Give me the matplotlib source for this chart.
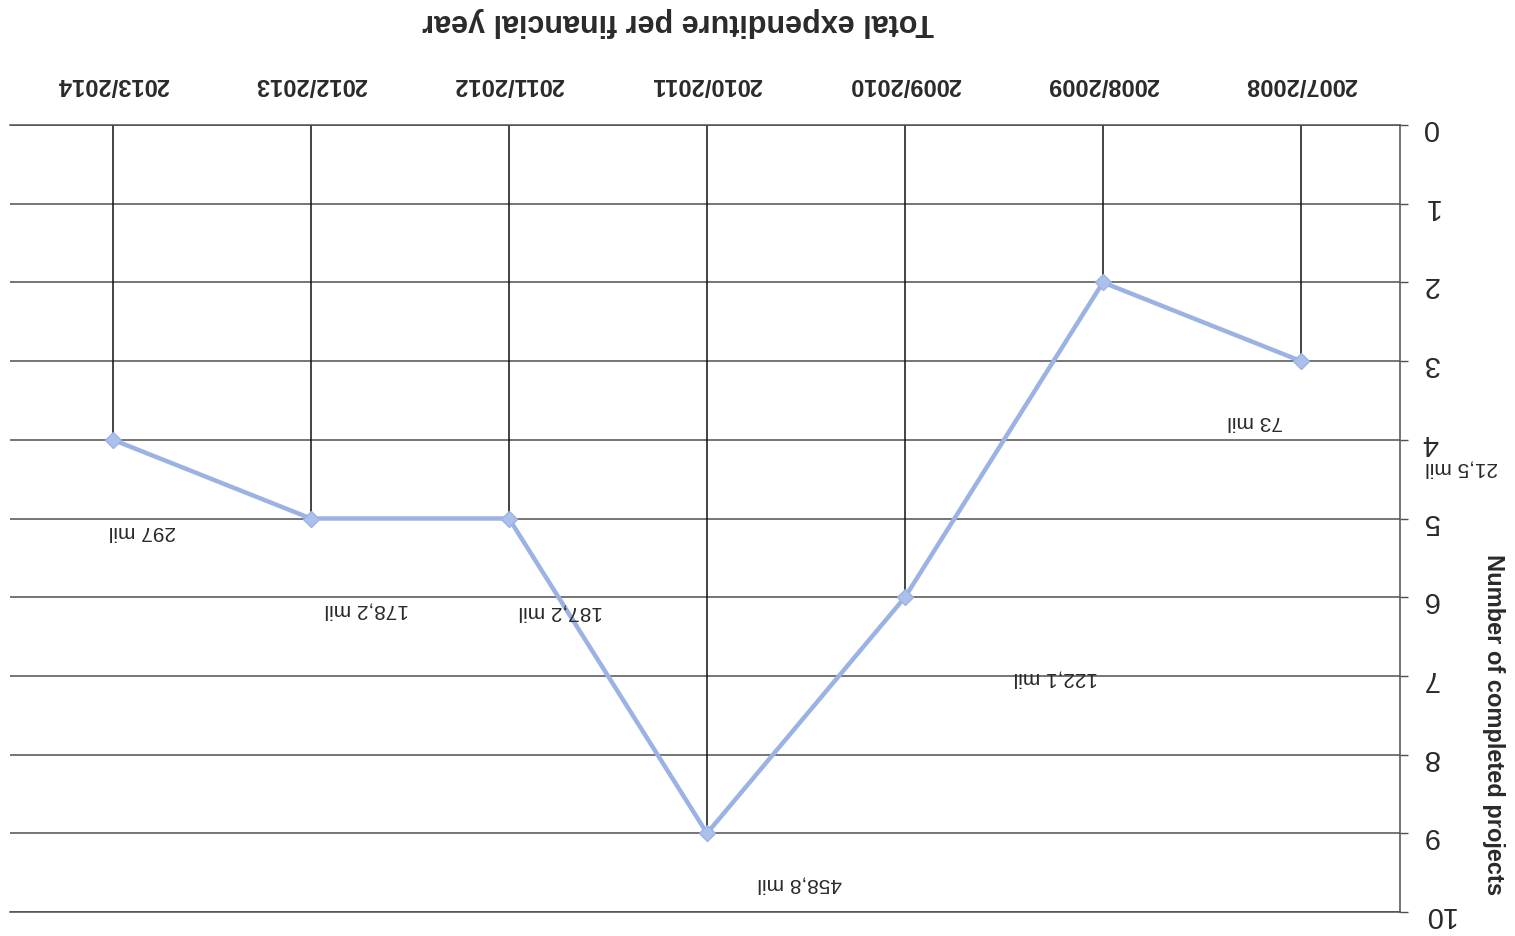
from matplotlib import pyplot as plt

plt.rcParams['font.family'] = ['Liberation Sans', 'DejaVu Sans']

years = ["2007/2008", "2008/2009", "2009/2010", "2010/2011", "2011/2012", "2012/2013", "2013/2014"]
completed_projects = [3, 2, 6, 9, 5, 5, 4]
expenditure = ["21,5 mil", "73 mil", "122,1 mil", "458,8 mil", "187,2 mil", "178,2 mil", "297 mil"]

# where each expenditure label sits (category index, value)
label_x = [-0.81, 0.23, 1.24, 2.53, 3.74, 4.72, 5.85]
label_y = [4.36, 3.77, 7.03, 9.64, 6.19, 6.16, 5.17]

text_color = '#2a2a2a'
grid_color = '#505050'

# the scanned page is upside down, so the whole chart is drawn rotated 180 degrees
fig = plt.figure(figsize=(15.15, 9.36), dpi=100)
ax = fig.add_axes([10 / 1515, 1 - 912 / 936, 1390 / 1515, 787 / 936])

x_values = range(len(years))
ax.vlines(x_values, 0, completed_projects, color='#111111', linewidth=1.1, zorder=2)
ax.plot(x_values, completed_projects, color='#9bb2e4', linewidth=3.2,
        marker='D', markersize=8, markerfacecolor='#abc0ea', markeredgecolor='#9bb2e4', zorder=3)

for lx, ly, txt in zip(label_x, label_y, expenditure):
    ax.text(lx, ly, txt, rotation=180, ha='center', va='center', fontsize=15,
            color=text_color, clip_on=False)

ax.set_xlim(6.52, -0.5)
ax.set_ylim(10, 0)

ax.set_yticks(range(11))
ax.yaxis.tick_right()
ax.tick_params(axis='y', direction='out', length=6, width=1, color=grid_color, pad=10,
               labelsize=21, labelcolor=text_color)
for lbl in ax.get_yticklabels():
    lbl.set_rotation(180)

ax.set_xticks(list(x_values))
ax.set_xticklabels(years)
ax.xaxis.tick_top()
ax.tick_params(axis='x', length=0, pad=21, labelsize=17, labelcolor=text_color)
for lbl in ax.get_xticklabels():
    lbl.set_rotation(180)
    lbl.set_fontweight('bold')

ax.grid(axis='y', color=grid_color, linewidth=1.1)
ax.grid(axis='x', visible=False)
ax.spines['left'].set_visible(False)
for side in ['top', 'bottom', 'right']:
    ax.spines[side].set_color(grid_color)
    ax.spines[side].set_linewidth(1.1)

fig.text(678 / 1515, 1 - 22 / 936, 'Total expenditure per financial year', rotation=180,
         ha='center', va='center', fontsize=22, fontweight='bold', color=text_color)
fig.text(1493 / 1515, 1 - 725 / 936, 'Number of completed projects', rotation=270,
         ha='center', va='center', fontsize=17, fontweight='bold', color=text_color)

plt.savefig('out.png', dpi=100)
